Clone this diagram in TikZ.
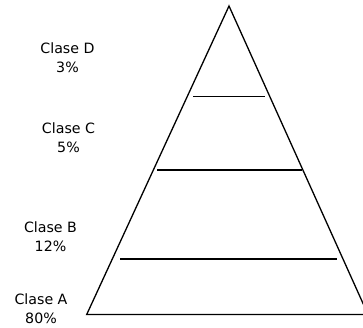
\documentclass[tikz,border=0pt]{standalone}
\usepackage{fontspec}
\setmainfont{DejaVu Sans}
\begin{document}
\begin{tikzpicture}[x=1pt,y=1pt,
  edge/.style={line width=1.3pt, line join=miter},
  band/.style={line width=1.6pt},
  lbl/.style={align=center, inner sep=0pt, font=\fontsize{14.2}{19.5}\selectfont}]
\useasboundingbox (0,0) rectangle (363,327);
\clip (0,0) rectangle (363,327);
\coordinate (apex) at (229,321);
\coordinate (bl) at (86.7,12.5);
\coordinate (br) at (368,12.5);
\draw[edge] (bl) -- (apex) -- (br) -- cycle;
\coordinate (dcL) at (193,230.3);
\coordinate (dcR) at (265,230.3);
\coordinate (cbL) at (157.3,157);
\coordinate (cbR) at (301.7,157);
\coordinate (baL) at (120,68);
\coordinate (baR) at (337,68);
\draw[band] (dcL) -- (dcR);
\draw[band] (cbL) -- (cbR);
\draw[band] (baL) -- (baR);
\node[lbl] (d) at (67.5,269.5) {Clase D\\3\%};
\node[lbl] (c) at (68.5,189.5) {Clase C\\5\%};
\node[lbl] (b) at (50.5,90.5) {Clase B\\12\%};
\node[lbl] (a) at (41,18.5) {Clase A\\80\%};
\end{tikzpicture}
\end{document}
